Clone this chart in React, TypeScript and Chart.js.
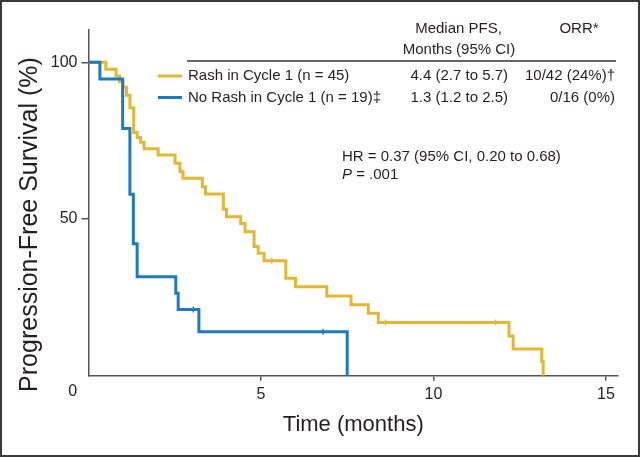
import React, { useEffect, useRef } from "react";
import { Chart, registerables } from "chart.js";

Chart.register(...registerables);

// ---- Data ----
const rashTimes = [0, 0.5, 0.8, 0.9, 1.0, 1.1, 1.2, 1.31, 1.41, 1.51, 1.61, 2.02, 2.51, 2.65, 2.74, 3.3, 3.39, 3.91, 4.0, 4.41, 4.54, 4.8, 4.92, 5.09, 5.72, 6.0, 6.91, 7.61, 8.11, 8.4, 12.19, 12.31, 13.14, 13.18];
const rashSurv = [100, 97.8, 95.6, 93.8, 92.0, 89.5, 85.5, 77.6, 76.0, 74.5, 72.4, 70.4, 67.8, 65.1, 63.0, 60.3, 58.0, 53.1, 50.7, 48.6, 45.9, 41.2, 39.1, 36.7, 31.1, 28.4, 25.4, 22.6, 19.9, 17.0, 12.7, 8.5, 4.5, 0];
const noRashTimes = [0, 0.33, 0.99, 1.2, 1.3, 1.41, 2.53, 2.6, 3.2, 7.5];
const noRashSurv = [100, 94.7, 78.9, 57.9, 42.1, 31.6, 26.3, 21.1, 14.0, 0];
const rashCensorTimes = [5.31, 8.61, 11.8];
const rashCensorSurv = [36.7, 17.0, 17.0];
const noRashCensorTimes = [3.04, 6.8];
const noRashCensorSurv = [21.1, 14.0];

const xTickValues = [5, 10, 15];
const yTickValues = [50, 100];
const originLabel = "0";

const seriesLabels = ["Rash in Cycle 1 (n = 45)", "No Rash in Cycle 1 (n = 19)\u2021"];
const medianPFS = ["4.4 (2.7 to 5.7)", "1.3 (1.2 to 2.5)"];
const orrValues = ["10/42 (24%)\u2020", "0/16 (0%)"];
const headerMedian = ["Median PFS,", "Months (95% CI)"];
const headerORR = "ORR*";
const hrText = "HR = 0.37 (95% CI, 0.20 to 0.68)";
const pLabel = "P";
const pValue = " = .001";
const xTitle = "Time (months)";
const yTitle = "Progression-Free Survival (%)";

const YELLOW = "#E5B731";
const BLUE = "#1C7BC0";
const AXIS = "#555555";
const TEXT = "#231F20";
const FONT = "'Liberation Sans', Arial, Helvetica, sans-serif";
const seriesColors = [YELLOW, BLUE];

const toPts = (xs: number[], ys: number[]) => xs.map((x, i) => ({ x, y: ys[i] }));

const textPlugin = {
  id: "kmText",
  afterDraw(chart: any) {
    const ctx = chart.ctx as CanvasRenderingContext2D;
    ctx.save();
    ctx.fillStyle = TEXT;
    ctx.textBaseline = "middle";

    // origin label
    ctx.font = `16px ${FONT}`;
    ctx.textAlign = "center";
    ctx.fillText(originLabel, 72.6, 392);

    // y title
    ctx.save();
    ctx.translate(30, 224.5);
    ctx.rotate(-Math.PI / 2);
    ctx.font = `25px ${FONT}`;
    ctx.textAlign = "center";
    ctx.fillText(yTitle, 0, 0);
    ctx.restore();

    // table header
    ctx.font = `15px ${FONT}`;
    ctx.textAlign = "center";
    ctx.fillText(headerMedian[0], 458.5, 29);
    ctx.fillText(headerMedian[1], 459, 50);
    ctx.fillText(headerORR, 579, 29);

    ctx.strokeStyle = "#333";
    ctx.lineWidth = 1.5;
    ctx.beginPath();
    ctx.moveTo(187, 61);
    ctx.lineTo(616, 61);
    ctx.stroke();

    const rowsY = [76, 97.5];
    rowsY.forEach((y, i) => {
      ctx.strokeStyle = seriesColors[i];
      ctx.lineWidth = 3;
      ctx.beginPath();
      ctx.moveTo(158, y);
      ctx.lineTo(182, y);
      ctx.stroke();
      ctx.textAlign = "left";
      ctx.fillText(seriesLabels[i], 188, y);
      ctx.textAlign = "right";
      ctx.fillText(medianPFS[i], 508, y);
      ctx.fillText(orrValues[i], 615, y);
    });

    // stats
    ctx.textAlign = "left";
    ctx.fillText(hrText, 342, 157);
    ctx.font = `italic 15px ${FONT}`;
    ctx.fillText(pLabel, 342, 175);
    const pw = ctx.measureText(pLabel).width;
    ctx.font = `15px ${FONT}`;
    ctx.fillText(pValue, 342 + pw, 175);

    ctx.restore();
  },
};

export default function App() {
  const canvasRef = useRef<HTMLCanvasElement | null>(null);

  useEffect(() => {
    if (!canvasRef.current) return;
    const chart = new Chart(canvasRef.current, {
      type: "line",
      data: {
        datasets: [
          {
            label: seriesLabels[1],
            data: toPts(noRashTimes, noRashSurv),
            borderColor: BLUE,
            borderWidth: 3,
            stepped: "before",
            pointRadius: 0,
            fill: false,
          } as any,
          {
            label: seriesLabels[0],
            data: toPts(rashTimes, rashSurv),
            borderColor: YELLOW,
            borderWidth: 3,
            stepped: "before",
            pointRadius: 0,
            fill: false,
          } as any,
          {
            type: "scatter",
            label: "censor-rash",
            data: toPts(rashCensorTimes, rashCensorSurv),
            pointStyle: "line",
            rotation: 90,
            pointRadius: 3,
            borderColor: YELLOW,
            borderWidth: 1.5,
            showLine: false,
          } as any,
          {
            type: "scatter",
            label: "censor-norash",
            data: toPts(noRashCensorTimes, noRashCensorSurv),
            pointStyle: "line",
            rotation: 90,
            pointRadius: 3,
            borderColor: BLUE,
            borderWidth: 1.5,
            showLine: false,
          } as any,
        ],
      },
      options: {
        animation: false,
        responsive: false,
        maintainAspectRatio: false,
        layout: { padding: { top: 30, right: 22, left: 0, bottom: 0 } },
        plugins: { legend: { display: false }, tooltip: { enabled: false } },
        scales: {
          x: {
            type: "linear",
            min: 0,
            max: 15.35,
            afterBuildTicks: (s: any) => {
              s.ticks = xTickValues.map((v) => ({ value: v }));
            },
            afterFit: (s: any) => {
              s.height = 81.3;
            },
            grid: { drawOnChartArea: false, drawTicks: true, tickLength: 5, color: AXIS, lineWidth: 1.5 },
            border: { display: true, color: AXIS, width: 1.5 },
            ticks: { font: { family: FONT, size: 16 }, color: TEXT, padding: 4, maxRotation: 0 },
            title: {
              display: true,
              text: xTitle,
              color: TEXT,
              font: { family: FONT, size: 22 },
              padding: { top: 0, bottom: 19 },
            },
          },
          y: {
            type: "linear",
            min: 0,
            max: 110.3,
            afterBuildTicks: (s: any) => {
              s.ticks = yTickValues.map((v) => ({ value: v }));
            },
            afterFit: (s: any) => {
              s.width = 88.5;
            },
            grid: { drawOnChartArea: false, drawTicks: true, tickLength: 7, color: AXIS, lineWidth: 1.5 },
            border: { display: true, color: AXIS, width: 1.5 },
            ticks: { font: { family: FONT, size: 16 }, color: TEXT, padding: 4 },
          },
        },
      },
      plugins: [textPlugin],
    } as any);
    return () => chart.destroy();
  }, []);

  return (
    <div style={{ position: "fixed", left: 0, top: 0, width: 640, height: 457, background: "#fff" }}>
      <canvas ref={canvasRef} width={640} height={457} style={{ position: "absolute", left: 0, top: 0, width: 640, height: 457 }} />
      <div
        style={{
          position: "absolute",
          left: 0,
          top: 0,
          width: 640,
          height: 457,
          boxSizing: "border-box",
          border: "2px solid #3a3a3a",
          pointerEvents: "none",
        }}
      />
    </div>
  );
}
